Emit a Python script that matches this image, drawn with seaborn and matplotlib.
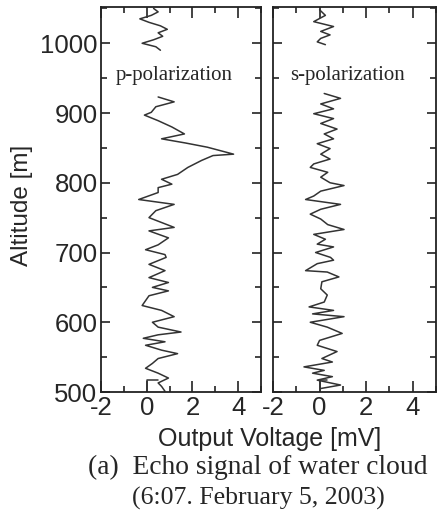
import numpy as np
import pandas as pd
import matplotlib
matplotlib.use("Agg")
import matplotlib.pyplot as plt
import seaborn as sns
from matplotlib.ticker import MultipleLocator

sns.set_style("ticks")
plt.rcParams['font.family'] = ['Liberation Sans', 'DejaVu Sans']

# ---- data ----
p_top_alt = [1050, 1045, 1040, 1035, 1030, 1025, 1020, 1015, 1010, 1005, 1000, 995, 990]
p_top_val = [0.3, 0.5, 0.2, -0.3, 0.1, 0.6, 0.9, 0.5, 0.7, 0.3, -0.2, 0.4, 0.6]

p_low_alt = [923, 916, 909, 901, 897, 889, 880, 870, 863, 857, 851, 841, 839, 832, 822,
             812, 805, 798, 793, 786, 776, 769, 760, 750, 736, 731, 721, 711, 704, 697,
             693, 683, 674, 664, 657, 650, 645, 638, 631, 624, 617, 608, 600, 593, 586,
             582, 577, 572, 567, 560, 555, 548, 541, 534, 527, 520, 513, 508, 501]
p_low_val = [0.5, 1.2, 0.4, 0.2, -0.1, 0.5, 1.1, 1.65, 0.65, 1.7, 2.65, 3.8, 2.9, 2.4, 1.8,
             1.35, 0.65, 1.1, 0.5, 0.5, -0.35, 1.2, 0.4, 0.1, 1.2, 0.1, 0.95, 0.5, -0.05, 0.8,
             0.85, 0.1, 0.8, 0.1, 0.95, 0.25, 0.95, 0.1, -0.05, -0.2, 0.65, 1.2, 0.25, 0.5, 1.5,
             0.5, -0.15, 0.8, -0.05, 0.65, 1.35, 0.5, 0.25, -0.05, 0.5, 0.95, 0.5, 0.65, 0.8]

p_base_alt = [517, 517, 500]
p_base_val = [0.5, 0.0, 0.0]

s_top_alt = [1048, 1040, 1031, 1024, 1017, 1012, 1007, 1002, 998]
s_top_val = [0.0, 0.25, -0.25, 0.6, 0.05, 0.45, 0.05, -0.1, 0.25]

s_low_alt = [928, 921, 913, 906, 899, 892, 885, 877, 870, 863, 856, 849, 841, 834, 827,
             822, 815, 808, 800, 796, 788, 781, 776, 769, 762, 755, 748, 740, 733, 726,
             719, 712, 708, 700, 693, 689, 684, 674, 672, 665, 658, 648, 639, 629, 622,
             617, 612, 608, 600, 593, 584, 574, 567, 558, 548, 543, 536, 531, 527, 522,
             517, 510, 505]
s_low_val = [0.2, 0.9, 0.05, 0.6, -0.25, 0.6, 0.05, 0.75, 0.2, 0.6, -0.1, 0.45, 0.05, 0.45, -0.25,
             -0.4, 0.35, 0.05, 0.45, 1.05, 0.05, -0.25, -0.6, 0.9, 0.05, -0.4, 0.05, 0.35, 1.05, -0.25,
             0.25, -0.1, 0.6, -0.17, 0.47, 0.6, -0.1, -0.6, 0.33, 0.83, 0.1, 0.05, 0.33, 0.2, -0.45,
             0.6, -0.3, 1.05, -0.4, 0.33, 0.97, 0.0, -0.1, 0.75, 0.1, 0.55, -0.67, 0.2, -0.3, 0.55,
             -0.1, 0.9, 0.05]

s_base_alt = [517, 517, 500]
s_base_val = [0.3, 0.0, 0.0]

panel_labels = ["p-polarization", "s-polarization"]
x_ticks = [-2, 0, 2, 4]
x_label = "Output Voltage [mV]"
y_label = "Altitude [m]"
caption = ["(a)  Echo signal of water cloud", "(6:07. February 5, 2003)"]

W, H = 437, 516
fig = plt.figure(figsize=(W / 100, H / 100), dpi=100)
ax1 = fig.add_axes([101 / W, 1 - 392 / H, 160 / W, 385 / H])
ax2 = fig.add_axes([273 / W, 1 - 392 / H, 163 / W, 385 / H])

line_kw = dict(color="#333333", linewidth=1.1, sort=False, estimator=None, orient="y")
panels = [
    (ax1, [(p_top_alt, p_top_val), (p_low_alt, p_low_val), (p_base_alt, p_base_val)], panel_labels[0]),
    (ax2, [(s_top_alt, s_top_val), (s_low_alt, s_low_val), (s_base_alt, s_base_val)], panel_labels[1]),
]
for ax, segs, lab in panels:
    for alt, val in segs:
        df = pd.DataFrame({"alt": alt, "val": val})
        sns.lineplot(data=df, x="val", y="alt", ax=ax, **line_kw)
    ax.set_xlim(-2, 5)
    ax.set_ylim(500, 1052)
    ax.set_xticks(x_ticks)
    ax.set_xticklabels([str(t) for t in x_ticks])
    ax.xaxis.set_minor_locator(MultipleLocator(1))
    ax.yaxis.set_major_locator(MultipleLocator(100))
    ax.yaxis.set_minor_locator(MultipleLocator(50))
    ax.tick_params(which="both", direction="in", top=True, right=True, width=1.2, color="#222222")
    ax.tick_params(axis="x", which="major", length=8, labelsize=18.5, pad=3)
    ax.tick_params(axis="y", which="major", length=6.5, labelsize=18.5, pad=2.5)
    ax.tick_params(which="minor", length=4)
    ax.set_xlabel("")
    ax.set_ylabel("")
    for sp in ax.spines.values():
        sp.set_linewidth(1.3)
        sp.set_color("#222222")
    ax.text(1.2, 954, lab, ha="center", va="center", fontsize=15,
            family=["Liberation Serif", "DejaVu Serif"])

ax2.tick_params(labelleft=False)

fig.text(22 / W, 1 - 205 / H, y_label, rotation=90, ha="center", va="center", fontsize=17.5)
fig.text(270 / W, 1 - 439 / H, x_label, ha="center", va="center", fontsize=18)
fig.text(258 / W, 1 - 467 / H, caption[0], ha="center", va="center", fontsize=19.8,
         family=["Liberation Serif", "DejaVu Serif"])
fig.text(258 / W, 1 - 498 / H, caption[1], ha="center", va="center", fontsize=18.5,
         family=["Liberation Serif", "DejaVu Serif"])

fig.savefig("out.png", dpi=100)
